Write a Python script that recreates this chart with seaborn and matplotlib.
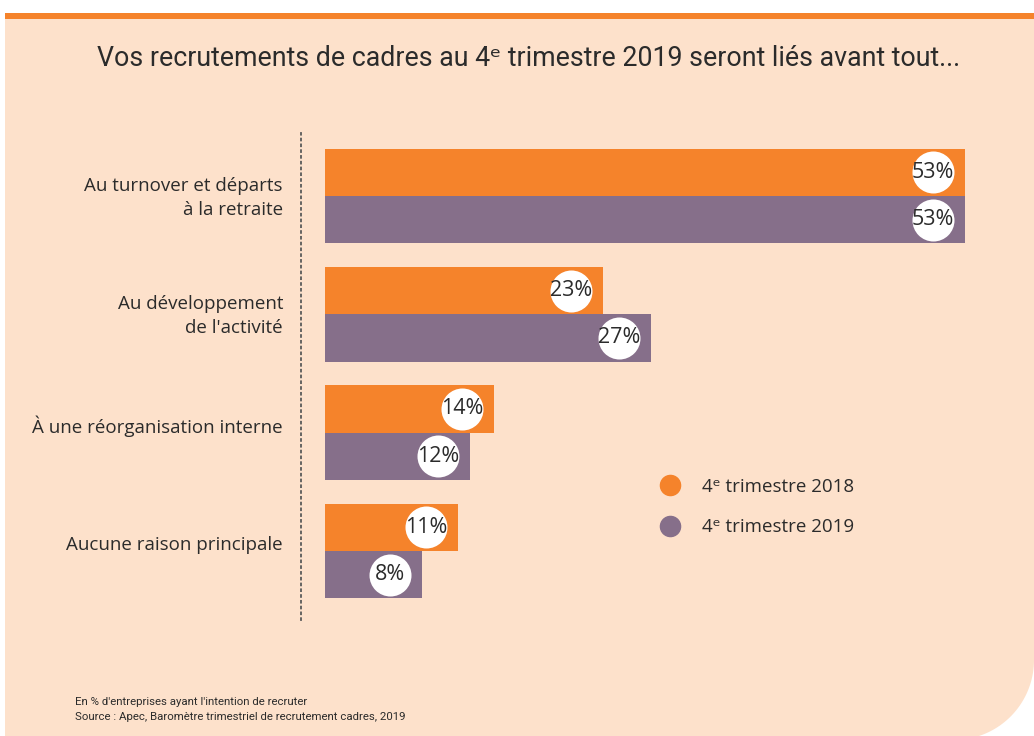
import numpy as np
import pandas as pd
import seaborn as sns
import matplotlib
matplotlib.use('Agg')
import matplotlib.pyplot as plt
from matplotlib.lines import Line2D
from matplotlib.patches import Rectangle, Polygon

categories = ["Au turnover et départs\nà la retraite",
              "Au développement\nde l'activité",
              "À une réorganisation interne",
              "Aucune raison principale"]
series = ["4ᵉ trimestre 2018", "4ᵉ trimestre 2019"]
values_2018 = [53, 23, 14, 11]
values_2019 = [53, 27, 12, 8]

orange = "#F5832B"
purple = "#866F8A"
beige = "#FDE1CB"
text_col = "#2B2B2B"

df = pd.DataFrame({
    "cat": categories * 2,
    "serie": [series[0]] * 4 + [series[1]] * 4,
    "val": values_2018 + values_2019,
})

sns.set_theme(style="white")
plt.rcParams['font.family'] = ['Open Sans', 'DejaVu Sans']
narrow = ["Roboto", "DejaVu Sans"]

W, H = 1034, 736
fig = plt.figure(figsize=(W / 100, H / 100), dpi=100)
fig.patch.set_facecolor("white")

# background panel, orange strip, rounded corner (behind the axes)
fig.patches.append(Rectangle((5 / W, 0), 1, (H - 19) / H, transform=fig.transFigure,
                             facecolor=beige, edgecolor="none", zorder=-3))
fig.patches.append(Rectangle((5 / W, (H - 19) / H), 1, 6 / H, transform=fig.transFigure,
                             facecolor=orange, edgecolor="none", zorder=-3))
R, cx, cy = 80, 954, 660
t = np.linspace(0, np.pi / 2, 40)
arc = [((cx + R * np.cos(a)) / W, (H - (cy + R * np.sin(a))) / H) for a in t]
corner = arc + [(1.01, -0.01), (1.01, (H - cy) / H)]
fig.patches.append(Polygon(corner, closed=True, transform=fig.transFigure,
                           facecolor="white", edgecolor="none", zorder=-2))

# axes geometry: bar start at x=325px, 12.08px per %
px_per = 640 / 53
x0 = 301
ax_right = 1000
ax = fig.add_axes([x0 / W, (H - 620) / H, (ax_right - x0) / W, (620 - 133) / H])
ax.set_facecolor("none")

sns.barplot(data=df, x="val", y="cat", hue="serie", orient="h",
            palette=[orange, purple], width=0.8, ax=ax, legend=False,
            saturation=1, edgecolor="none", linewidth=0)

ax.set_xlim(-(325 - x0) / px_per, (ax_right - 325) / px_per)
row = 118.3
ax.set_ylim((620 - 196) / row, (133 - 196) / row)

for s in ["top", "right", "bottom"]:
    ax.spines[s].set_visible(False)
ax.spines["left"].set_linestyle((0, (1, 2.2)))
ax.spines["left"].set_color("#5a5a5a")
ax.spines["left"].set_linewidth(1.3)
ax.set_xticks([])
ax.set_xlabel("")
ax.set_ylabel("")

# category labels, slightly above the group centre
yticks = ax.get_yticks()
ax.set_yticks(yticks, [""] * len(yticks))
ax.tick_params(axis="y", length=0)
for yv, name in zip(yticks, categories):
    dy = -2 if "\n" in name else 6
    ax.annotate(name, xy=(0, yv), xycoords=("axes fraction", "data"),
                xytext=(-18, dy), textcoords="offset pixels",
                ha="right", va="center", multialignment="right",
                fontsize=13.5, color=text_col, linespacing=1.45)

# value circles
off = 32 / px_per
for cont in ax.containers:
    for bar in cont:
        w = bar.get_width()
        yc = bar.get_y() + bar.get_height() / 2
        ax.scatter([w - off], [yc], s=(42 * 0.72) ** 2, color="white", zorder=5, linewidths=0)
        ax.text(w - off, yc, f"{w:.0f}%", ha="center", va="center", fontsize=15.5,
                color=text_col, zorder=6)

# legend
handles = [Line2D([], [], marker="o", linestyle="none", markersize=14.5, color=c) for c in [orange, purple]]
leg = fig.legend(handles, series, loc="center left", bbox_to_anchor=(647 / W, 1 - 507 / H),
                 frameon=False, fontsize=13.5, handletextpad=1.05, labelspacing=1.2,
                 borderpad=0, handlelength=1.4)
for txt in leg.get_texts():
    txt.set_color(text_col)

fig.text(529 / W, 1 - 58 / H, "Vos recrutements de cadres au 4ᵉ trimestre 2019 seront liés avant tout...",
         ha="center", va="center", fontsize=19.3, color=text_col, family=narrow)
fig.text(75 / W, 1 - 702 / H, "En % d'entreprises ayant l'intention de recruter",
         ha="left", va="center", fontsize=8.2, color=text_col, family=narrow)
fig.text(75 / W, 1 - 717 / H, "Source : Apec, Baromètre trimestriel de recrutement cadres, 2019",
         ha="left", va="center", fontsize=8.2, color=text_col, family=narrow)

fig.savefig("out.png", dpi=100, facecolor=fig.get_facecolor())
